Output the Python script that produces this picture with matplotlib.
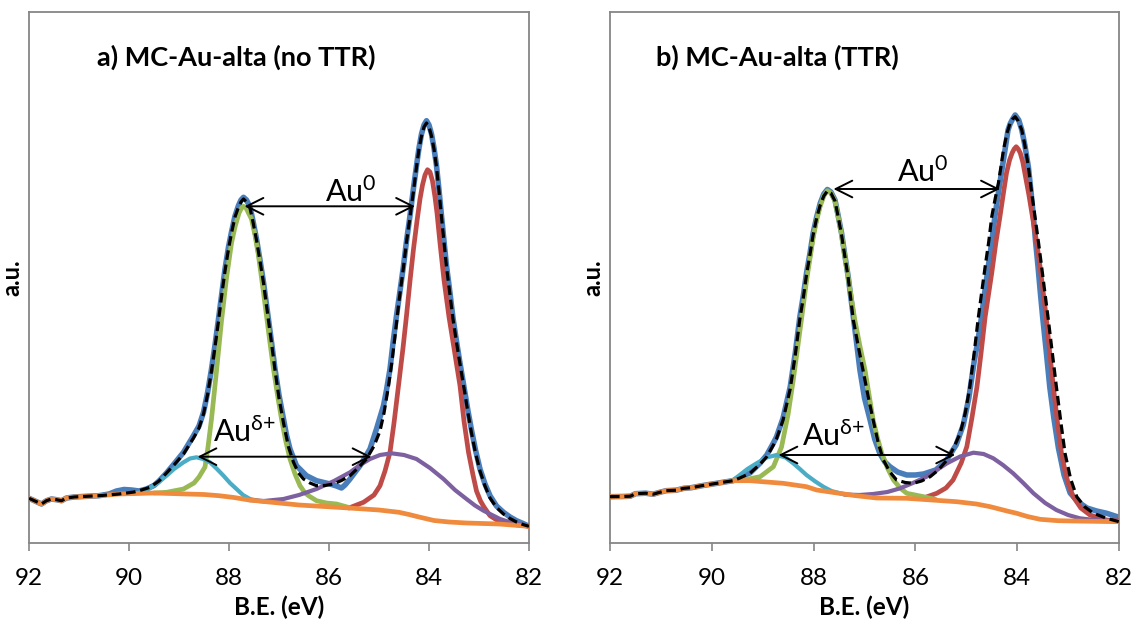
import matplotlib
matplotlib.use('Agg')
import matplotlib.pyplot as plt

plt.rcParams['font.family'] = ['Lato', 'DejaVu Sans']
plt.rcParams['mathtext.default'] = 'regular'

# Excel-like colours
COLORS = {'data': '#4A7EBB', 'au0_a': '#BE4B48', 'au0_b': '#98B954', 'aud_b': '#4BACC6',
          'aud_a': '#7D60A0', 'bg': '#F08A3C', 'fit': 'black'}
GREY = '#868686'

# ---------------- panel a) MC-Au-alta (no TTR) ----------------
be_bg_a = [92.0, 91.85, 91.75, 91.65, 91.55, 91.45, 91.35, 91.25, 91.1, 90.85, 90.6, 90.2, 89.5,
           88.85, 88.5, 88.2, 87.9, 87.6, 87.2, 86.6, 85.6, 85.0, 84.6, 84.4, 84.2, 83.9, 83.6,
           83.25, 82.6, 82.0]
int_bg_a = [44.7, 41.3, 39.0, 42.3, 44.0, 43.3, 42.3, 45.0, 46.0, 46.7, 47.3, 49.0, 50.0,
            49.0, 48.5, 47.3, 45.5, 43.0, 41.0, 38.0, 35.0, 33.0, 30.7, 28.5, 26.0, 22.5, 21.0,
            20.0, 19.0, 16.7]

be_data_a = [92.0, 91.85, 91.75, 91.65, 91.55, 91.45, 91.35, 91.25, 91.1, 90.85, 90.6, 90.4, 90.25,
             90.1, 89.95, 89.8, 89.65, 89.5, 89.4, 89.25, 89.1, 88.91, 88.71, 88.6, 88.51, 88.43,
             88.35, 88.28, 88.21, 88.14, 88.08, 88.01, 87.95, 87.88, 87.81, 87.76, 87.71, 87.65,
             87.58, 87.52, 87.45, 87.38, 87.31, 87.23, 87.15, 87.08, 87.0, 86.91, 86.85, 86.78,
             86.65, 86.45, 86.25, 85.98, 85.85, 85.75, 85.68, 85.58, 85.38, 85.18, 85.05, 84.91,
             84.85, 84.78, 84.72, 84.65, 84.58, 84.51, 84.45, 84.38, 84.31, 84.25, 84.2, 84.15,
             84.1, 84.05, 84.0, 83.95, 83.9, 83.85, 83.8, 83.75, 83.7, 83.65, 83.58, 83.52, 83.46,
             83.4, 83.34, 83.28, 83.22, 83.15, 83.07, 82.98, 82.88, 82.78, 82.65, 82.51, 82.38,
             82.25, 82.12, 82.0]
int_data_a = [44.7, 41.3, 39.0, 42.3, 44.0, 43.3, 42.3, 45.0, 46.0, 46.7, 47.3, 49.0, 52.0,
              53.5, 53.0, 52.0, 54.0, 57.5, 62.0, 70.0, 79.0, 90.7, 107.3, 117.0, 130.7, 150.0,
              174.0, 198.0, 224.0, 251.0, 274.0, 296.0, 311.0, 327.0, 337.5, 343.0, 345.7, 343.0,
              336.0, 322.0, 304.0, 283.0, 260.7, 231.0, 201.0, 174.0, 148.0, 124.0, 108.0, 94.0,
              77.3, 67.3, 62.3, 59.0, 57.0, 55.0, 58.0, 64.0, 77.3, 94.0, 114.0, 137.3,
              153.0, 174.0, 200.0, 227.3, 252.0, 277.3, 302.0, 327.3, 355.0, 377.3, 395.0, 409.0,
              418.0, 422.3, 418.0, 409.0, 395.0, 377.3, 353.0, 327.3, 302.0, 277.3, 250.0, 225.0,
              205.0, 186.0, 168.0, 150.0, 132.0, 113.0, 93.0, 74.0, 59.0, 47.3, 37.0, 30.7, 26.0,
              22.3, 19.5, 16.7]

be_fit_a = [92.0, 91.85, 91.75, 91.65, 91.55, 91.45, 91.35, 91.25, 91.1, 90.85, 90.6, 90.2, 89.9,
            89.75, 89.58, 89.4, 89.25, 89.1, 88.91, 88.71, 88.6, 88.51, 88.43, 88.35, 88.28, 88.21,
            88.14, 88.08, 88.01, 87.95, 87.88, 87.81, 87.76, 87.71, 87.65, 87.58, 87.52, 87.45,
            87.38, 87.31, 87.23, 87.15, 87.08, 87.0, 86.91, 86.81, 86.71, 86.61, 86.51, 86.38,
            86.25, 86.08, 85.91, 85.75, 85.58, 85.42, 85.25, 85.1, 84.98, 84.9, 84.81, 84.74,
            84.68, 84.6, 84.51, 84.45, 84.38, 84.31, 84.25, 84.2, 84.15, 84.1, 84.05, 84.0, 83.95,
            83.9, 83.85, 83.8, 83.75, 83.7, 83.65, 83.58, 83.52, 83.46, 83.4, 83.34, 83.28, 83.22,
            83.15, 83.07, 82.98, 82.88, 82.78, 82.65, 82.51, 82.38, 82.25, 82.12, 82.0]
int_fit_a = [44.7, 41.3, 39.0, 42.3, 44.0, 43.3, 42.3, 45.0, 46.0, 46.7, 47.3, 49.0, 51.0,
             53.0, 55.7, 62.0, 70.0, 78.0, 89.0, 105.0, 115.0, 129.0, 148.0, 172.0, 196.0, 222.0,
             250.0, 272.0, 294.0, 310.0, 326.0, 336.0, 341.0, 344.0, 341.0, 335.0, 321.0, 303.0,
             282.0, 260.0, 230.0, 200.0, 173.0, 145.0, 120.0, 96.0, 80.7, 70.0, 64.0, 60.0,
             57.3, 57.5, 59.0, 62.5, 67.3, 75.0, 84.0, 97.0, 112.0, 130.0, 157.0, 182.0,
             207.0, 242.0, 276.0, 301.0, 326.0, 352.0, 376.0, 394.0, 407.0, 416.0, 420.0, 416.0,
             407.0, 394.0, 376.0, 352.0, 326.0, 301.0, 276.0, 248.0, 224.0, 204.0, 185.0, 167.0,
             149.0, 130.0, 110.0, 90.0, 72.0, 57.0, 45.0, 35.5, 29.0, 24.5, 21.0, 18.5, 16.7]

# Au 4f5/2 metallic component
be_g_a = [89.5, 89.25, 88.91, 88.7, 88.6, 88.48, 88.42, 88.35, 88.25, 88.15, 88.05, 87.95, 87.88,
          87.8, 87.75, 87.71, 87.66, 87.62, 87.55, 87.48, 87.41, 87.33, 87.25, 87.18, 87.11,
          87.03, 86.95, 86.87, 86.78, 86.68, 86.58, 86.48, 86.4, 86.25, 86.05, 85.85, 85.6]
int_g_a = [50.0, 50.7, 54.0, 60.0, 66.0, 76.0, 96.0, 124.0, 172.0, 222.0, 265.0, 300.0, 316.0,
           330.0, 335.0, 336.7, 335.0, 331.0, 324.0, 308.0, 287.3, 258.0, 227.3, 200.0, 174.0,
           148.0, 124.0, 103.0, 84.0, 69.0, 57.3, 50.0, 47.0, 42.3, 40.0, 39.0, 35.5]

# Au 4f7/2 metallic component
be_r_a = [85.6, 85.31, 85.1, 84.98, 84.88, 84.78, 84.7, 84.61, 84.52, 84.45, 84.38, 84.31, 84.24,
          84.18, 84.13, 84.08, 84.03, 83.98, 83.93, 83.88, 83.84, 83.78, 83.7, 83.6, 83.5, 83.44,
          83.38, 83.3, 83.21, 83.12, 83.05, 82.97, 82.9, 82.78, 82.58, 82.3, 82.0]
int_r_a = [35.0, 40.7, 48.0, 57.3, 72.0, 90.7, 120.0, 157.3, 195.0, 227.3, 262.0, 294.0, 322.0,
           344.0, 358.0, 368.0, 373.3, 371.0, 362.0, 346.0, 330.0, 300.0, 263.0, 226.0, 195.0,
           176.0, 157.3, 122.0, 90.7, 68.0, 52.0, 42.0, 36.0, 27.3, 21.0, 18.5, 16.7]

# Au delta+ components
be_c_a = [89.9, 89.75, 89.58, 89.4, 89.25, 89.1, 88.91, 88.78, 88.65, 88.52, 88.38, 88.25, 88.11,
          87.98, 87.85, 87.72, 87.58, 87.4, 87.2]
int_c_a = [49.5, 51.0, 55.0, 61.0, 67.3, 74.0, 80.7, 84.5, 85.7, 84.0, 80.7, 74.5, 67.3,
           60.0, 54.0, 48.0, 44.0, 42.0, 41.0]

be_p_a = [87.6, 87.3, 86.91, 86.6, 86.25, 85.9, 85.58, 85.38, 85.18, 84.98, 84.75, 84.5, 84.25,
          83.98, 83.71, 83.48, 83.25, 83.08, 82.91, 82.58, 82.3, 82.0]
int_p_a = [43.0, 42.0, 44.0, 48.0, 54.0, 62.0, 70.7, 78.0, 84.0, 88.0, 89.7, 88.0, 84.0,
           75.0, 64.0, 53.0, 44.0, 37.5, 32.3, 24.0, 19.5, 17.3]

# ---------------- panel b) MC-Au-alta (TTR) ----------------
be_bg_b = [92.0, 91.75, 91.6, 91.5, 91.3, 91.15, 91.05, 90.9, 90.7, 90.55, 90.4, 90.23, 90.05,
           89.9, 89.75, 89.58, 89.25, 88.6, 88.14, 87.94, 87.2, 86.76, 86.17, 85.19, 84.8, 84.53,
           84.2, 84.01, 83.8, 83.55, 83.2, 82.9, 82.0]
int_bg_b = [46.3, 46.5, 46.8, 49.3, 49.8, 48.8, 50.3, 52.3, 52.8, 54.7, 55.3, 57.0, 58.5,
            59.7, 61.0, 62.3, 62.3, 59.7, 56.3, 53.0, 47.5, 45.0, 44.7, 41.3, 39.0, 36.3,
            32.0, 29.7, 26.5, 23.7, 22.3, 22.0, 21.3]

be_data_b = [92.0, 91.75, 91.6, 91.5, 91.3, 91.15, 91.05, 90.9, 90.7, 90.55, 90.4, 90.23, 90.05,
             89.9, 89.75, 89.58, 89.45, 89.25, 89.05, 88.92, 88.79, 88.73, 88.6, 88.46, 88.36,
             88.27, 88.2, 88.14, 88.07, 88.01, 87.94, 87.87, 87.8, 87.73, 87.66, 87.58, 87.52,
             87.45, 87.39, 87.32, 87.22, 87.15, 87.09, 87.0, 86.89, 86.8, 86.7, 86.6, 86.5, 86.35,
             86.17, 86.0, 85.84, 85.6, 85.4, 85.2, 85.06, 84.95, 84.85, 84.78, 84.71, 84.64,
             84.57, 84.5, 84.44, 84.37, 84.31, 84.24, 84.18, 84.14, 84.1, 84.04, 83.97, 83.91,
             83.85, 83.78, 83.73, 83.68, 83.64, 83.59, 83.55, 83.5, 83.43, 83.36, 83.28, 83.19,
             83.08, 82.96, 82.8, 82.63, 82.44, 82.24, 82.0]
int_data_b = [46.3, 46.5, 46.8, 49.3, 49.8, 48.8, 50.3, 52.3, 52.8, 54.7, 55.3, 57.0, 58.5,
              59.7, 61.0, 62.3, 66.0, 70.0, 80.0, 88.0, 100.0, 106.0, 125.0, 156.0, 190.0,
              226.3, 248.0, 269.7, 290.0, 309.7, 326.0, 339.7, 349.0, 353.5, 351.0, 343.0, 328.0,
              309.7, 289.0, 266.3, 226.3, 198.0, 173.0, 145.0, 123.0, 104.0, 89.7, 81.0, 76.3, 71.0,
              68.0, 68.0, 69.0, 73.0, 82.0, 98.0, 118.0, 145.0, 180.0, 200.0, 223.0, 250.0,
              276.0, 301.0, 326.0, 350.0, 370.0, 393.0, 413.0, 419.0, 423.0, 428.0, 423.0, 413.0,
              398.0, 376.0, 352.0, 326.0, 302.0, 276.0, 253.0, 226.0, 192.0, 156.0, 125.0, 95.0,
              68.0, 50.0, 41.0, 35.0, 32.0, 29.7, 25.7]

be_fit_b = [92.0, 91.75, 91.6, 91.5, 91.3, 91.15, 91.05, 90.9, 90.7, 90.55, 90.4, 90.23, 90.05,
            89.9, 89.75, 89.58, 89.45, 89.25, 89.05, 88.92, 88.79, 88.73, 88.6, 88.46, 88.36,
            88.27, 88.2, 88.14, 88.07, 88.01, 87.94, 87.87, 87.8, 87.73, 87.66, 87.58, 87.52,
            87.45, 87.39, 87.32, 87.22, 87.12, 87.03, 86.93, 86.83, 86.73, 86.63, 86.5, 86.37,
            86.2, 86.04, 85.88, 85.71, 85.55, 85.38, 85.25, 85.12, 85.02, 84.93, 84.85, 84.77,
            84.7, 84.63, 84.56, 84.5, 84.43, 84.37, 84.32, 84.27, 84.2, 84.14, 84.09, 84.04,
            83.98, 83.91, 83.85, 83.78, 83.72, 83.65, 83.58, 83.52, 83.46, 83.39, 83.31, 83.23,
            83.14, 83.06, 82.95, 82.83, 82.67, 82.5, 82.24, 82.0]
int_fit_b = [46.3, 46.5, 46.8, 49.3, 49.8, 48.8, 50.3, 52.3, 52.8, 54.7, 55.3, 57.0, 58.5,
             59.7, 61.0, 62.3, 65.0, 69.7, 79.0, 86.3, 98.0, 104.0, 123.0, 154.0, 188.0,
             224.0, 246.0, 268.0, 289.0, 308.0, 325.0, 338.0, 347.0, 352.0, 350.0, 342.0, 327.0,
             308.0, 288.0, 265.0, 223.0, 196.0, 173.0, 147.0, 123.0, 100.0, 83.0, 71.0, 63.0,
             60.5, 59.7, 62.0, 66.3, 73.0, 83.0, 95.0, 109.7, 130.0, 156.3, 188.0, 223.0,
             250.0, 276.3, 301.0, 326.3, 345.0, 359.7, 376.0, 393.0, 410.0, 419.7, 424.0, 426.3,
             422.0, 413.0, 398.0, 376.3, 352.0, 326.3, 300.0, 276.3, 252.0, 224.0, 190.0, 156.3,
             120.0, 89.7, 64.0, 46.3, 36.0, 29.7, 24.7, 21.3]

be_g_b = [89.6, 89.38, 89.05, 88.79, 88.63, 88.5, 88.4, 88.32, 88.24, 88.14, 88.07, 88.01, 87.94,
          87.87, 87.8, 87.73, 87.66, 87.58, 87.52, 87.45, 87.39, 87.32, 87.19, 87.09, 86.99,
          86.91, 86.83, 86.74, 86.66, 86.55, 86.43, 86.3, 86.17, 85.84, 85.6]
int_g_b = [62.5, 63.0, 66.3, 76.3, 96.0, 129.0, 163.0, 193.0, 223.0, 262.0, 285.0, 305.0, 323.0,
           337.0, 347.0, 352.3, 350.0, 342.0, 327.0, 308.0, 288.0, 265.0, 223.0, 197.0, 173.0,
           148.0, 123.0, 104.0, 89.7, 75.0, 63.0, 55.0, 49.7, 46.3, 43.5]

be_r_b = [85.84, 85.58, 85.4, 85.26, 85.1, 84.99, 84.89, 84.79, 84.71, 84.63, 84.5, 84.42, 84.34,
          84.27, 84.21, 84.15, 84.1, 84.06, 84.02, 83.98, 83.94, 83.89, 83.85, 83.77, 83.68,
          83.61, 83.55, 83.49, 83.43, 83.36, 83.29, 83.21, 83.13, 83.06, 83.0, 82.9, 82.75,
          82.57, 82.24, 82.0]
int_r_b = [45.0, 49.7, 55.0, 63.0, 80.0, 96.3, 125.0, 156.3, 190.0, 226.0, 270.0, 300.0, 326.0,
           350.0, 370.0, 383.0, 390.0, 394.0, 396.3, 394.0, 390.0, 381.0, 370.0, 348.0, 320.0,
           298.0, 276.0, 251.0, 226.0, 190.0, 156.3, 121.0, 89.7, 72.0, 60.0, 46.3, 35.0,
           28.0, 23.0, 22.0]

be_c_b = [89.7, 89.58, 89.45, 89.3, 89.12, 88.92, 88.73, 88.55, 88.4, 88.27, 88.14, 87.98, 87.81,
          87.65, 87.48, 87.3]
int_c_b = [61.5, 63.0, 68.0, 74.0, 79.7, 85.5, 88.0, 85.5, 79.7, 74.0, 68.0, 62.0, 56.3,
           52.0, 49.7, 48.0]

be_p_b = [87.4, 87.1, 86.83, 86.55, 86.3, 86.05, 85.78, 85.58, 85.38, 85.12, 84.86, 84.66, 84.47,
          84.28, 84.08, 83.88, 83.68, 83.45, 83.23, 83.0, 82.77, 82.4, 82.0]
int_p_b = [48.5, 48.0, 49.0, 51.0, 54.7, 60.0, 66.3, 73.0, 79.7, 86.5, 90.3, 89.0, 84.7,
           78.0, 69.7, 60.0, 49.7, 40.0, 33.0, 28.0, 24.7, 22.5, 22.0]

TITLES = ['a) MC-Au-alta (no TTR)', 'b) MC-Au-alta (TTR)']
TICKS = [92, 90, 88, 86, 84, 82]


def draw_panel(ax, d, title, title_x, arrows, labels):
    style = dict(solid_joinstyle='round', solid_capstyle='round')
    ax.plot(d['data'][0], d['data'][1], color=COLORS['data'], lw=4.0, zorder=2, **style)
    ax.plot(d['r'][0], d['r'][1], color=COLORS['au0_a'], lw=3.4, zorder=3, **style)
    ax.plot(d['g'][0], d['g'][1], color=COLORS['au0_b'], lw=3.4, zorder=3, **style)
    ax.plot(d['c'][0], d['c'][1], color=COLORS['aud_b'], lw=3.0, zorder=3, **style)
    ax.plot(d['p'][0], d['p'][1], color=COLORS['aud_a'], lw=3.0, zorder=3, **style)
    ax.plot(d['bg'][0], d['bg'][1], color=COLORS['bg'], lw=3.4, zorder=4, **style)
    ax.plot(d['fit'][0], d['fit'][1], color=COLORS['fit'], lw=2.3, dashes=(3.0, 1.5), zorder=5)

    for (x1, x2, y) in arrows:
        ax.annotate('', xy=(x2, y), xytext=(x1, y),
                    arrowprops=dict(arrowstyle='<->,head_length=1.2,head_width=0.6',
                                    mutation_scale=10, lw=1.4, color='black',
                                    shrinkA=0, shrinkB=0), zorder=6)
    for (x, y, s) in labels:
        ax.text(x, y, s, ha='center', va='baseline', fontsize=22, zorder=6)

    ax.text(title_x, 0.898, title, transform=ax.transAxes, fontsize=19.5,
            fontweight='bold', va='baseline', ha='left')

    ax.set_xlim(92, 82)
    ax.set_ylim(0, 531)
    ax.set_xticks(TICKS)
    ax.set_xticklabels([str(t) for t in TICKS])
    ax.set_yticks([])
    ax.tick_params(axis='x', direction='out', length=6, width=1.2, color=GREY,
                   labelsize=17.5, pad=12)
    for s in ax.spines.values():
        s.set_color(GREY)
        s.set_linewidth(1.3)
    ax.set_xlabel('B.E. (eV)', fontsize=17.5, fontweight='bold', labelpad=5)
    ax.set_ylabel('a.u.', fontsize=17, fontweight='bold', labelpad=4)


def main():
    fig = plt.figure(figsize=(11.36, 6.26), dpi=100)
    ax_a = fig.add_axes([29 / 1136, 1 - 543 / 626, 500 / 1136, 531 / 626])
    ax_b = fig.add_axes([610 / 1136, 1 - 543 / 626, 509 / 1136, 531 / 626])

    data_a = {'data': (be_data_a, int_data_a), 'fit': (be_fit_a, int_fit_a),
              'bg': (be_bg_a, int_bg_a), 'g': (be_g_a, int_g_a), 'r': (be_r_a, int_r_a),
              'c': (be_c_a, int_c_a), 'p': (be_p_a, int_p_a)}
    data_b = {'data': (be_data_b, int_data_b), 'fit': (be_fit_b, int_fit_b),
              'bg': (be_bg_b, int_bg_b), 'g': (be_g_b, int_g_b), 'r': (be_r_b, int_r_b),
              'c': (be_c_b, int_c_b), 'p': (be_p_b, int_p_b)}

    draw_panel(ax_a, data_a, TITLES[0], 0.136,
               arrows=[(87.69, 84.28, 336.7), (88.63, 85.15, 86.3)],
               labels=[(85.56, 340.7, 'Au$^{0}$'), (87.68, 100.7, r'Au$^{\delta{+}}$')])
    draw_panel(ax_b, data_b, TITLES[1], 0.09,
               arrows=[(87.61, 84.34, 354.0), (88.69, 85.22, 88.0)],
               labels=[(85.85, 361.3, 'Au$^{0}$'), (87.61, 97.0, r'Au$^{\delta{+}}$')])

    fig.savefig('out.png', dpi=100)
    plt.close(fig)


if __name__ == '__main__':
    main()
